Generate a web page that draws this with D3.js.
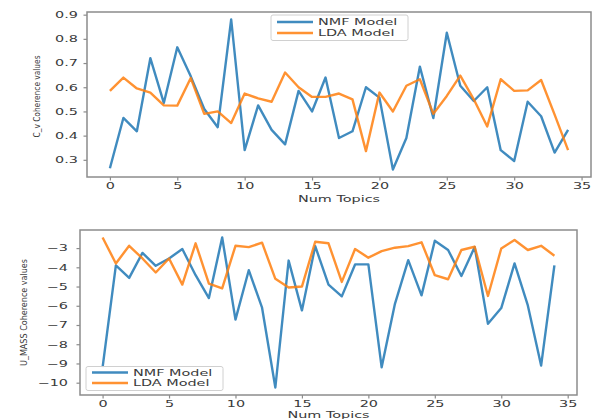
<!DOCTYPE html>
<html>
<head>
<meta charset="utf-8">
<script src="https://cdn.jsdelivr.net/npm/d3@7"></script>
<style>
  html, body { margin: 0; padding: 0; background: #fff; }
  svg { display: block; }
  text { font-family: "DejaVu Sans", sans-serif; fill: #3a3a3a; }
</style>
</head>
<body>
<svg id="chart" width="595" height="419"></svg>
<script>
// ---------- data ----------
const numTopics = d3.range(0, 35);
const xTickValues = [0, 5, 10, 15, 20, 25, 30, 35];

const nmfCv = [0.265, 0.473, 0.418, 0.72, 0.535, 0.765, 0.645, 0.51, 0.435, 0.88,
  0.34, 0.525, 0.424, 0.364, 0.585, 0.50, 0.64, 0.39, 0.418, 0.60,
  0.557, 0.26, 0.39, 0.685, 0.473, 0.825, 0.606, 0.543, 0.60, 0.34,
  0.295, 0.54, 0.48, 0.33, 0.424];
const ldaCv = [0.585, 0.64, 0.595, 0.578, 0.525, 0.524, 0.638, 0.49, 0.50, 0.452,
  0.574, 0.554, 0.54, 0.661, 0.60, 0.56, 0.56, 0.574, 0.55, 0.336,
  0.578, 0.50, 0.606, 0.633, 0.49, 0.564, 0.648, 0.55, 0.438, 0.633,
  0.585, 0.587, 0.63, 0.487, 0.34];
const cvTickValues = [0.3, 0.4, 0.5, 0.6, 0.7, 0.8, 0.9];

const nmfUmass = [-9.2, -3.9, -4.55, -3.25, -3.92, -3.54, -3.05, -4.41, -5.6, -2.45,
  -6.72, -4.15, -6.1, -10.25, -3.65, -6.24, -2.9, -4.9, -5.51, -3.85,
  -3.85, -9.2, -5.9, -3.63, -5.46, -2.62, -3.1, -4.45, -2.95, -6.94,
  -6.12, -3.8, -5.98, -9.11, -3.9];
const ldaUmass = [-2.45, -3.8, -2.88, -3.54, -4.27, -3.54, -4.9, -2.75, -4.85, -5.1,
  -2.88, -2.95, -2.72, -4.6, -5.05, -5.0, -2.67, -2.75, -4.76, -3.05,
  -3.5, -3.16, -2.98, -2.9, -2.7, -4.41, -4.62, -3.1, -2.93, -5.49,
  -3.02, -2.58, -3.1, -2.88, -3.4];
const umassTickValues = [-10, -9, -8, -7, -6, -5, -4, -3];

const seriesNames = ["NMF Model", "LDA Model"];
const seriesColors = ["#1f77b4", "#ff7f0e"];

// ---------- drawing ----------
const svg = d3.select("#chart");
const SX = 1.6;       // horizontal stretch of the reference's text
const FS = 9;

function padded(values) {
  const [lo, hi] = d3.extent(values);
  const p = (hi - lo) * 0.05;
  return [lo - p, hi + p];
}

function panel(cfg) {
  const { left, right, top, bottom } = cfg.box;
  const x = d3.scaleLinear().domain(padded(numTopics)).range([left, right]);
  const y = d3.scaleLinear().domain(padded(cfg.series.flat())).range([bottom, top]);
  const g = svg.append("g");

  // lines
  const line = d3.line().x((d, i) => x(numTopics[i])).y(d => y(d));
  cfg.series.forEach((s, k) => {
    g.append("path").datum(s)
      .attr("d", line)
      .attr("fill", "none")
      .attr("stroke", seriesColors[k])
      .attr("stroke-width", 2.4)
      .attr("stroke-linejoin", "round")
      .attr("stroke-opacity", 0.85);
  });

  // frame
  g.append("rect")
    .attr("x", left).attr("y", top)
    .attr("width", right - left).attr("height", bottom - top)
    .attr("fill", "none").attr("stroke", "#8c8c8c").attr("stroke-width", 1.5);

  // x axis
  const gx = g.append("g").attr("transform", `translate(0,${bottom})`)
    .call(d3.axisBottom(x).tickValues(xTickValues).tickSize(3.5).tickPadding(2.5)
      .tickFormat(d3.format("d")));
  gx.select(".domain").remove();
  gx.selectAll(".tick line").attr("stroke", "#8c8c8c").attr("stroke-width", 1.2);
  gx.selectAll(".tick text")
    .attr("font-size", FS).attr("font-family", "DejaVu Sans")
    .attr("fill", "#3a3a3a")
    .attr("transform", `scale(${SX},1)`);

  // y axis
  const gy = g.append("g").attr("transform", `translate(${left},0)`)
    .call(d3.axisLeft(y).tickValues(cfg.yTicks).tickSize(3.5)
      .tickFormat(cfg.yFormat));
  gy.select(".domain").remove();
  gy.selectAll(".tick line").attr("stroke", "#8c8c8c").attr("stroke-width", 1.2);
  gy.selectAll(".tick text")
    .attr("font-size", FS).attr("font-family", "DejaVu Sans")
    .attr("fill", "#3a3a3a")
    .attr("x", -cfg.yLabelGap / SX)
    .attr("transform", `scale(${SX},1)`);

  // x label
  g.append("text")
    .attr("transform", `translate(${(left + right) / 2},${cfg.xLabelY}) scale(${SX},1)`)
    .attr("text-anchor", "middle").attr("font-size", FS)
    .text("Num Topics");

  // y label
  g.append("text")
    .attr("transform", `translate(${cfg.yLabel.x},${(top + bottom) / 2 + cfg.yLabel.dy}) rotate(-90)`)
    .attr("text-anchor", "middle").attr("dy", "0.35em")
    .attr("font-size", 9.5)
    .attr("textLength", cfg.yLabel.len).attr("lengthAdjust", "spacingAndGlyphs")
    .text(cfg.yLabel.text);

  // legend
  const L = cfg.legend;
  const lg = g.append("g");
  lg.append("rect")
    .attr("x", L.x).attr("y", L.y).attr("width", L.w).attr("height", L.h)
    .attr("rx", 2).attr("fill", "#fff").attr("fill-opacity", 0.85)
    .attr("stroke", "#d0d0d0").attr("stroke-width", 1);
  seriesNames.forEach((name, k) => {
    const yy = L.y + L.row0 + k * L.rowGap;
    lg.append("line")
      .attr("x1", L.x + 6).attr("x2", L.x + 42)
      .attr("y1", yy).attr("y2", yy)
      .attr("stroke", seriesColors[k]).attr("stroke-width", 2.4).attr("stroke-opacity", 0.85);
    lg.append("text")
      .attr("transform", `translate(${L.x + 47},${yy + 3.3}) scale(${SX},1)`)
      .attr("font-size", FS)
      .text(name);
  });
}

panel({
  box: { left: 87, right: 591, top: 12, bottom: 177 },
  series: [nmfCv, ldaCv],
  yTicks: cvTickValues,
  yFormat: d3.format(".1f"),
  yLabelGap: 9,
  xLabelY: 202,
  yLabel: { x: 37, dy: 2, len: 82, text: "C_v Coherence values" },
  legend: { x: 271, y: 15, w: 137, h: 25.5, row0: 7, rowGap: 11 }
});

panel({
  box: { left: 80, right: 577, top: 230, bottom: 395 },
  series: [nmfUmass, ldaUmass],
  yTicks: umassTickValues,
  yFormat: d3.format("d"),
  yLabelGap: 12,
  xLabelY: 418,
  yLabel: { x: 24, dy: 0, len: 107, text: "U_MASS Coherence values" },
  legend: { x: 86, y: 366.5, w: 137, h: 24, row0: 6, rowGap: 10.5 }
});
</script>
</body>
</html>
